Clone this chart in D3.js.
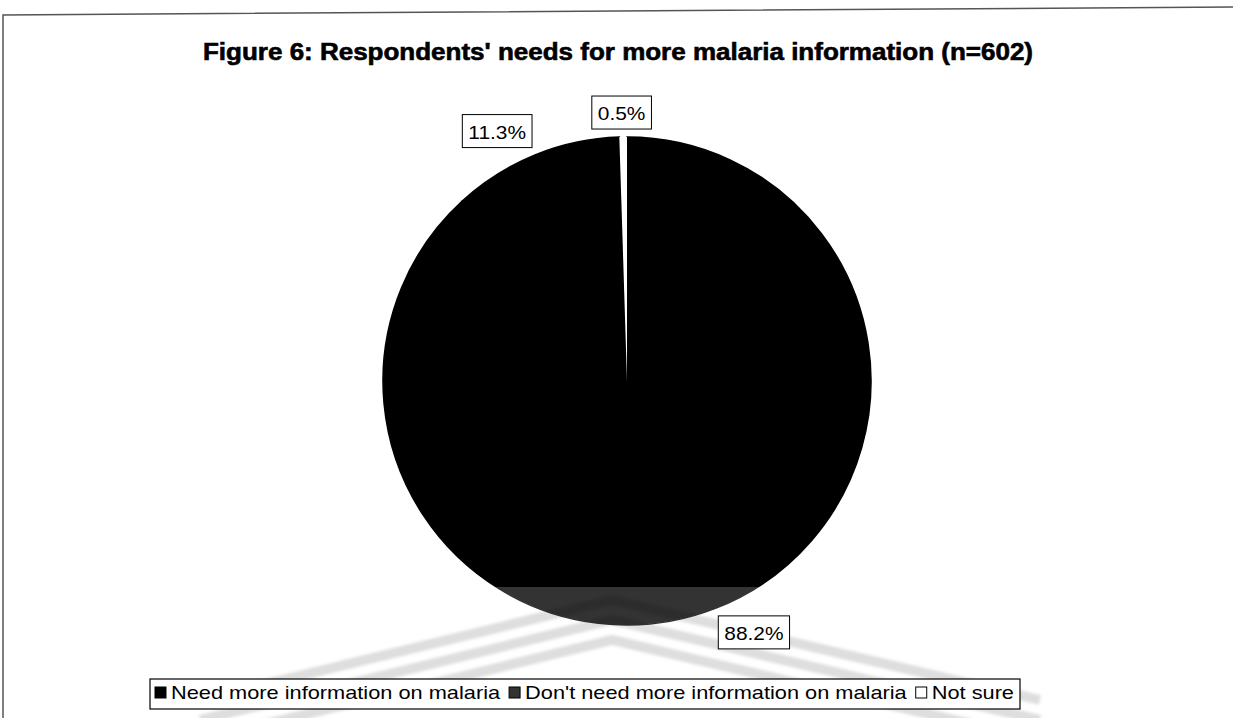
<!DOCTYPE html>
<html><head><meta charset="utf-8">
<script src="https://cdn.jsdelivr.net/npm/d3@7"></script>
<style>html,body{margin:0;background:#fff;overflow:hidden}svg{display:block}</style>
</head><body>
<svg id="chart" width="1233" height="718"></svg>
<script>
const title = "Figure 6: Respondents' needs for more malaria information (n=602)";
const categories = ["Need more information on malaria", "Don't need more information on malaria", "Not sure"];
const values = [88.2, 11.3, 0.5];
const labels = ["88.2%", "11.3%", "0.5%"];
const colors = ["#000000", "#000000", "#ffffff"];
const legendColors = ["#000000", "#333333", "#ffffff"];

const svg = d3.select("#chart");
const W = 1233, H = 718;
const font = "'Liberation Sans', Arial, sans-serif";

// frame (scanned page border)
svg.append("path").attr("d", `M3,${H} L3,15 L${W},7`).attr("fill","none").attr("stroke","#555").attr("stroke-width",1.5);

// title
svg.append("text").attr("x", 618).attr("y", 60).attr("text-anchor","middle")
  .attr("font-family", font).attr("font-weight","bold").attr("font-size", 23)
  .attr("textLength", 830).attr("lengthAdjust","spacingAndGlyphs")
  .attr("stroke","#000").attr("stroke-width",0.6)
  .attr("fill","#000").text(title);

// pie
const cx = 627, cy = 381, r = 244;
const pie = d3.pie().sort(null).value(d => d)(values);
const arc = d3.arc().innerRadius(0).outerRadius(r);
const g = svg.append("g").attr("transform", `translate(${cx},${cy})`);
g.selectAll("path.slice").data(pie).join("path").attr("class","slice")
  .attr("d", arc).attr("fill", (d,i) => colors[i])
  .attr("stroke", (d,i) => colors[i] === "#ffffff" ? "none" : colors[i])
  .attr("stroke-width", 1.5);

// watermark overlay (scan)
const defs = svg.append("defs");
defs.append("filter").attr("id","blur").append("feGaussianBlur").attr("stdDeviation", 1.5);
const wm = svg.append("g");
wm.append("rect").attr("x", 330).attr("y", 587).attr("width", 840).attr("height", 131)
  .attr("fill","#fff").attr("opacity",0.2);
const stripes = [0, 20, 40];
stripes.forEach(o => {
  wm.append("path").attr("d", `M200,${700+o} L612,${600+o} L1040,${700+o}`)
    .attr("fill","none").attr("stroke","#000").attr("stroke-opacity",0.13).attr("stroke-width",10)
    .attr("filter","url(#blur)");
});

// data labels
const labG = svg.append("g");
pie.forEach((d,i) => {
  const a = (d.startAngle + d.endAngle)/2;
  const ax = cx + Math.sin(a)*(r+8), ay = cy - Math.cos(a)*(r+8);
  const t = labG.append("text").attr("font-family", font).attr("font-size", 19)
    .attr("text-anchor","middle").attr("dominant-baseline","central").attr("fill","#000").text(labels[i]);
  const tw = t.node().getComputedTextLength() * 1.1;
  t.attr("textLength", tw).attr("lengthAdjust","spacingAndGlyphs");
  const w = tw + 12, h = 33;
  const s = v => Math.max(-1, Math.min(1, v*3));
  const bx = ax + (w/2)*s(Math.sin(a)), by = ay + (h/2)*s(-Math.cos(a));
  t.attr("x", bx).attr("y", by+1);
  labG.insert("rect","text").attr("x", bx-w/2).attr("y", by-h/2).attr("width", w).attr("height", h)
    .attr("fill","#fff").attr("stroke","#000").attr("stroke-width",1);
});

// legend
const lg = svg.append("g");
const L0 = 150, L1 = 1020, sq = 11;
lg.append("rect").attr("x",L0).attr("y",679).attr("width",L1-L0).attr("height",30)
  .attr("fill","#fff").attr("stroke","#000").attr("stroke-width",1.2);
const texts = categories.map(c => lg.append("text").attr("y", 699).attr("font-family", font)
  .attr("font-size", 19).attr("fill","#000").text(c));
const nat = texts.map(t => t.node().getComputedTextLength());
const fixed = 5 + categories.length*(sq+5) + (categories.length-1)*9 + 6;
const k = (L1 - L0 - fixed) / d3.sum(nat);
let x = L0 + 5;
categories.forEach((c,i) => {
  lg.append("rect").attr("x", x).attr("y", 687).attr("width", sq).attr("height", sq)
    .attr("fill", legendColors[i]).attr("stroke","#000").attr("stroke-width",1);
  const tw = nat[i]*k;
  texts[i].attr("x", x+sq+5).attr("textLength", tw).attr("lengthAdjust","spacingAndGlyphs");
  x += sq + 5 + tw + 9;
});
</script>
</body></html>
